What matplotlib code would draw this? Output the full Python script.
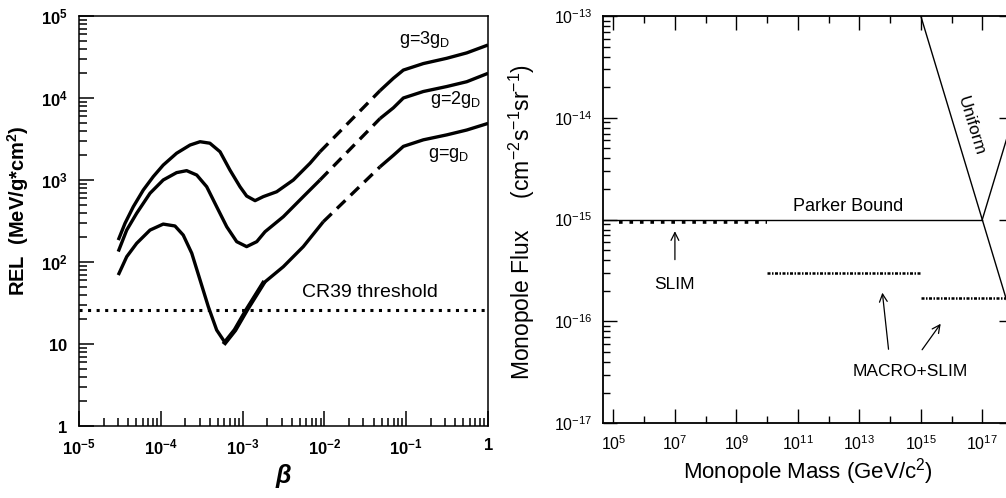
import matplotlib
matplotlib.use("Agg")
import matplotlib.pyplot as plt
from matplotlib.ticker import FixedLocator, FixedFormatter, LogLocator, NullFormatter

plt.rcParams['font.family'] = ['Liberation Sans', 'DejaVu Sans']
plt.rcParams['mathtext.fontset'] = 'custom'
plt.rcParams['mathtext.rm'] = 'Liberation Sans'
plt.rcParams['mathtext.bf'] = 'Liberation Sans:bold'
plt.rcParams['mathtext.it'] = 'Liberation Sans:italic'
plt.rcParams['mathtext.default'] = 'regular'

# ---- left panel: REL vs beta ----
# g = 3 gD
beta_3g_lo = [3.02e-5, 3.65e-5, 4.61e-5, 6.11e-5, 8.09e-5, 1.07e-4, 1.56e-4, 2.28e-4, 3.02e-4,
              3.98e-4, 5.30e-4, 7.01e-4, 9.29e-4, 1.12e-3, 1.42e-3, 1.79e-3, 2.61e-3, 4.17e-3,
              6.67e-3, 8.83e-3]
rel_3g_lo = [185, 296, 472, 755, 1100, 1520, 2120, 2670, 2930,
             2810, 2210, 1320, 828, 638, 560, 627, 719, 1000,
             1600, 2210]
beta_3g_dash = [8.83e-3, 4.79e-2]
rel_3g_dash = [2210, 12300]
beta_3g_hi = [4.79e-2, 6.97e-2, 9.23e-2, 0.162, 0.313, 0.55, 1.0]
rel_3g_hi = [12300, 17400, 21900, 26300, 30500, 35500, 44300]

# g = 2 gD
beta_2g_lo = [3.02e-5, 3.83e-5, 5.07e-5, 7.38e-5, 1.07e-4, 1.56e-4, 2.07e-4, 2.75e-4, 3.64e-4,
              4.82e-4, 6.40e-4, 8.47e-4, 1.12e-3, 1.49e-3, 1.88e-3, 3.15e-3, 5.52e-3, 8.83e-3]
rel_2g_lo = [134, 245, 393, 689, 1000, 1230, 1300, 1150, 828,
             472, 269, 177, 154, 177, 234, 357, 627, 1000]
beta_2g_dash = [8.83e-3, 4.79e-2]
rel_2g_dash = [1000, 5620]
beta_2g_hi = [4.79e-2, 6.97e-2, 9.23e-2, 0.162, 0.313, 0.55, 1.0]
rel_2g_hi = [5620, 7590, 10000, 12000, 13800, 15800, 20000]

# g = gD
beta_1g_lo = [3.02e-5, 3.83e-5, 5.07e-5, 7.38e-5, 1.07e-4, 1.49e-4, 1.88e-4, 2.39e-4, 3.02e-4,
              3.81e-4, 4.82e-4, 6.10e-4, 8.07e-4, 1.12e-3, 1.79e-3, 3.15e-3, 5.52e-3, 9.70e-3]
rel_1g_lo = [69.3, 116, 169, 245, 290, 275, 213, 128, 60.3,
             28.5, 14.8, 10.4, 14.8, 26.0, 55.0, 87.7, 154, 310]
beta_1g_dash = [9.70e-3, 4.79e-2]
rel_1g_dash = [310, 1450]
beta_1g_hi = [4.79e-2, 6.97e-2, 9.23e-2, 0.162, 0.313, 0.55, 1.0]
rel_1g_hi = [1450, 2000, 2570, 3090, 3550, 4070, 4900]
# heavier stroke around the minimum of the g = gD curve
beta_1g_bold = [6.10e-4, 8.07e-4, 1.12e-3, 1.79e-3]
rel_1g_bold = [10.4, 14.8, 26.0, 55.0]

cr39_threshold = 26

left_xticks = [1e-5, 1e-4, 1e-3, 1e-2, 1e-1, 1]
left_xlabels = [r'$\mathbf{10^{-5}}$', r'$\mathbf{10^{-4}}$', r'$\mathbf{10^{-3}}$',
                r'$\mathbf{10^{-2}}$', r'$\mathbf{10^{-1}}$', r'$\mathbf{1}$']
left_yticks = [1, 10, 100, 1e3, 1e4, 1e5]
left_ylabels = [r'$\mathbf{1}$', r'$\mathbf{10}$', r'$\mathbf{10^2}$',
                r'$\mathbf{10^3}$', r'$\mathbf{10^4}$', r'$\mathbf{10^5}$']

# ---- right panel: flux limits vs mass ----
parker_mass = [10**4.67, 1e17]
parker_flux = [1e-15, 1e-15]
uniform_mass = [1e15, 1e19]
uniform_flux = [1e-13, 1e-17]
other_mass = [1e17, 1e19]
other_flux = [1e-15, 1e-13]
slim_mass = [1.5e5, 1e10]
slim_flux = [0.95e-15, 0.95e-15]
macro1_mass = [1e10, 1e15]
macro1_flux = [3.0e-16, 3.0e-16]
macro2_mass = [1e15, 1e18]
macro2_flux = [1.7e-16, 1.7e-16]

right_xticks = [1e5, 1e7, 1e9, 1e11, 1e13, 1e15, 1e17]
right_xlabels = ['$10^{5}$', '$10^{7}$', '$10^{9}$', '$10^{11}$', '$10^{13}$', '$10^{15}$', '$10^{17}$']
right_yticks = [1e-17, 1e-16, 1e-15, 1e-14, 1e-13]
right_ylabels = ['$10^{-17}$', '$10^{-16}$', '$10^{-15}$', '$10^{-14}$', '$10^{-13}$']

W, H = 1006, 498
fig = plt.figure(figsize=(W / 100, H / 100), dpi=100)

ax1 = fig.add_axes([79 / W, (H - 426) / H, (488 - 79) / W, (426 - 16) / H])
ax2 = fig.add_axes([603.3 / W, (H - 423.3) / H, (1013 - 603.3) / W, (423.3 - 16) / H])

lw = 2.4
for b, r in [(beta_3g_lo, rel_3g_lo), (beta_2g_lo, rel_2g_lo), (beta_1g_lo, rel_1g_lo),
             (beta_3g_hi, rel_3g_hi), (beta_2g_hi, rel_2g_hi), (beta_1g_hi, rel_1g_hi)]:
    ax1.plot(b, r, color='black', lw=lw, solid_capstyle='butt', solid_joinstyle='round')
ax1.plot(beta_1g_bold, rel_1g_bold, color='black', lw=3.4, solid_joinstyle='round')
for b, r in [(beta_3g_dash, rel_3g_dash), (beta_2g_dash, rel_2g_dash), (beta_1g_dash, rel_1g_dash)]:
    ax1.plot(b, r, color='black', lw=lw, linestyle=(0, (3.5, 2.2)))

ax1.axhline(cr39_threshold, color='black', lw=2.2, linestyle=(0, (1, 1.8)))

ax1.set_xscale('log')
ax1.set_yscale('log')
ax1.set_xlim(1e-5, 1)
ax1.set_ylim(1, 1e5)
ax1.xaxis.set_major_locator(FixedLocator(left_xticks))
ax1.xaxis.set_major_formatter(FixedFormatter(left_xlabels))
ax1.yaxis.set_major_locator(FixedLocator(left_yticks))
ax1.yaxis.set_major_formatter(FixedFormatter(left_ylabels))
ax1.xaxis.set_minor_locator(LogLocator(base=10, subs=range(2, 10), numticks=20))
ax1.yaxis.set_minor_locator(LogLocator(base=10, subs=range(2, 10), numticks=20))
ax1.xaxis.set_minor_formatter(NullFormatter())
ax1.yaxis.set_minor_formatter(NullFormatter())
ax1.tick_params(which='both', direction='in', top=False, right=False, width=1.1)
ax1.tick_params(which='major', length=11, labelsize=12, pad=8)
ax1.tick_params(which='minor', length=6)
for sp in ax1.spines.values():
    sp.set_linewidth(1.1)

ax1.set_xlabel('β', fontsize=18, fontstyle='italic', fontweight='bold', labelpad=5)
ax1.set_ylabel('REL  (MeV/g*cm$^2$)', fontsize=14.5, fontweight='bold')
ax1.yaxis.set_label_coords(-0.118, 0.525)

ax1.text(0.166, 10**4.71, 'g=3g$_D$', fontsize=13, ha='center', va='center')
ax1.text(0.40, 10**3.976, 'g=2g$_D$', fontsize=13, ha='center', va='center')
ax1.text(0.333, 10**3.305, 'g=g$_D$', fontsize=13, ha='center', va='center')
ax1.text(0.036, 42, 'CR39 threshold', fontsize=14, ha='center', va='center')

# right panel
ax2.plot(parker_mass, parker_flux, color='black', lw=1.0)
ax2.plot(uniform_mass, uniform_flux, color='black', lw=1.0)
ax2.plot(other_mass, other_flux, color='black', lw=1.0)
ax2.plot(slim_mass, slim_flux, color='black', lw=2.6, linestyle=(0, (1, 1.9)))
ax2.plot(macro1_mass, macro1_flux, color='black', lw=1.8, linestyle=(0, (1.2, 0.6, 0.6, 0.6)))
ax2.plot(macro2_mass, macro2_flux, color='black', lw=1.8, linestyle=(0, (1.2, 0.6, 0.6, 0.6)))

ax2.set_xscale('log')
ax2.set_yscale('log')
ax2.set_xlim(10**4.67, 1e18)
ax2.set_ylim(1e-17, 1e-13)
ax2.xaxis.set_major_locator(FixedLocator(right_xticks))
ax2.xaxis.set_major_formatter(FixedFormatter(right_xlabels))
ax2.xaxis.set_minor_locator(LogLocator(base=10, subs=(1.0,), numticks=30))
ax2.xaxis.set_minor_formatter(NullFormatter())
ax2.yaxis.set_major_locator(FixedLocator(right_yticks))
ax2.yaxis.set_major_formatter(FixedFormatter(right_ylabels))
ax2.yaxis.set_minor_locator(LogLocator(base=10, subs=range(2, 10), numticks=20))
ax2.yaxis.set_minor_formatter(NullFormatter())
ax2.tick_params(which='both', direction='in', top=True, right=True, width=1.0)
ax2.tick_params(which='major', length=10, labelsize=11.5, pad=8)
ax2.tick_params(which='minor', length=5)
for sp in ax2.spines.values():
    sp.set_linewidth(1.3)

ax2.set_xlabel('Monopole Mass (GeV/c$^2$)', fontsize=16, labelpad=2)
ax2.set_ylabel('Monopole Flux     (cm$^{-2}$s$^{-1}$sr$^{-1}$)', fontsize=16.5)
ax2.yaxis.set_label_coords(-0.162, 0.495)

ax2.text(10**12.65, 1.12e-15, 'Parker Bound', fontsize=13, ha='center', va='bottom')
ax2.text(10**16.62, 10**-14.08, 'Uniform', fontsize=12.5, ha='center', va='center', rotation=-73)
ax2.annotate('', xy=(1e7, 8.2e-16), xytext=(1e7, 3.8e-16),
             arrowprops=dict(arrowstyle='->', lw=0.9, color='black', mutation_scale=14))
ax2.text(1e7, 10**-15.64, 'SLIM', fontsize=12.5, ha='center', va='center')
ax2.annotate('', xy=(10**13.74, 10**-15.69), xytext=(10**13.96, 10**-16.30),
             arrowprops=dict(arrowstyle='->', lw=0.9, color='black', mutation_scale=14))
ax2.annotate('', xy=(10**15.70, 10**-16.0), xytext=(10**14.99, 10**-16.30),
             arrowprops=dict(arrowstyle='->', lw=0.9, color='black', mutation_scale=14))
ax2.text(10**14.66, 10**-16.49, 'MACRO+SLIM', fontsize=12.5, ha='center', va='center')

fig.savefig('out.png', dpi=100)
